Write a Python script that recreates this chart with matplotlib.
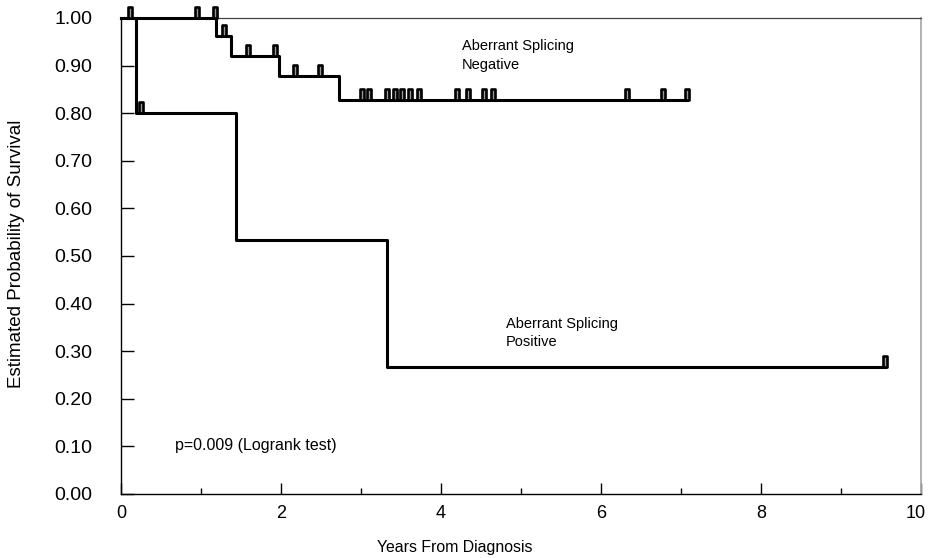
import numpy as np
import matplotlib
matplotlib.use("Agg")
import matplotlib.pyplot as plt
import matplotlib.transforms as mtransforms
from matplotlib.path import Path

plt.rcParams['font.family'] = ['Liberation Sans', 'DejaVu Sans']

# Kaplan-Meier steps (years, survival)
neg_times = [0.0, 1.19, 1.37, 1.97, 2.72]
neg_surv = [1.00, 0.962, 0.921, 0.879, 0.828]
neg_end = 7.08
neg_censor = [0.11, 0.95, 1.18, 1.29, 1.59, 1.93, 2.17, 2.49,
              3.01, 3.10, 3.32, 3.43, 3.51, 3.61, 3.72,
              4.20, 4.34, 4.54, 4.65, 6.33, 6.78, 7.08]

pos_times = [0.0, 0.19, 1.44, 3.33]
pos_surv = [1.00, 0.80, 0.533, 0.267]
pos_end = 9.55
pos_censor = [0.25, 9.55]

yticks = np.arange(0, 1.01, 0.1)
xticks = [0, 2, 4, 6, 8, 10]


def surv_at(t, times, surv):
    # value of the step function at time t
    idx = np.searchsorted(times, t, side='right') - 1
    return np.array(surv)[idx]


# censor mark: small upright bar sitting on top of the curve
tick_mark = Path([(-0.18, 0), (0.18, 0), (0.18, 1), (-0.18, 1), (-0.18, 0)],
                 [Path.MOVETO, Path.LINETO, Path.LINETO, Path.LINETO, Path.CLOSEPOLY])

fig = plt.figure(figsize=(9.29, 5.58), dpi=100)
ax = fig.add_axes([121 / 929, 1 - 494 / 558, 800 / 929, 476 / 558])

for times, surv, end, cens in [(neg_times, neg_surv, neg_end, neg_censor),
                               (pos_times, pos_surv, pos_end, pos_censor)]:
    x = list(times) + [end]
    y = list(surv) + [surv[-1]]
    ax.step(x, y, where='post', color='black', lw=2.2, clip_on=False, zorder=3)
    ax.plot(cens, surv_at(cens, times, surv), ls='none', marker=tick_mark,
            markersize=16, mfc='#999999', mec='black', mew=1.9, clip_on=False, zorder=4)

ax.set_xlim(0, 10)
ax.set_ylim(0, 1.0)
ax.set_yticks(yticks)
ax.set_yticklabels([f'{v:.2f}' for v in yticks])
ax.set_xticks(xticks)
ax.set_xticks(range(1, 10, 2), minor=True)

ax.tick_params(axis='y', direction='in', length=9, width=1, labelsize=14, pad=20.5)
ax.tick_params(axis='x', which='major', direction='in', length=8, width=1, labelsize=13, pad=8)
ax.tick_params(axis='x', which='minor', direction='in', length=4.5, width=1)

# last x label sits a little left so it stays inside the figure
last = ax.get_xticklabels()[-1]
last.set_transform(last.get_transform() + mtransforms.ScaledTranslation(-4 / 72, 0, fig.dpi_scale_trans))

ax.spines['left'].set_linewidth(1)
ax.spines['bottom'].set_linewidth(1)
ax.spines['top'].set_color('#444444')
ax.spines['top'].set_linewidth(0.9)
ax.spines['right'].set_color('#aaaaaa')
ax.spines['right'].set_linewidth(1.3)

ax.set_xlabel('Years From Diagnosis', fontsize=11.4)
ax.xaxis.set_label_coords(0.417, -0.097)
ax.set_ylabel('Estimated Probability of Survival', fontsize=13.5)
ax.yaxis.set_label_coords(-0.12, 0.504)

ax.text(4.26, 0.955, 'Aberrant Splicing\nNegative', fontsize=10.5, va='top',
        ha='left', linespacing=1.4)
ax.text(4.81, 0.372, 'Aberrant Splicing\nPositive', fontsize=10.5, va='top',
        ha='left', linespacing=1.4)
ax.text(0.675, 0.101, 'p=0.009 (Logrank test)', fontsize=11.5, va='center', ha='left')

fig.savefig('out.png', dpi=100)
